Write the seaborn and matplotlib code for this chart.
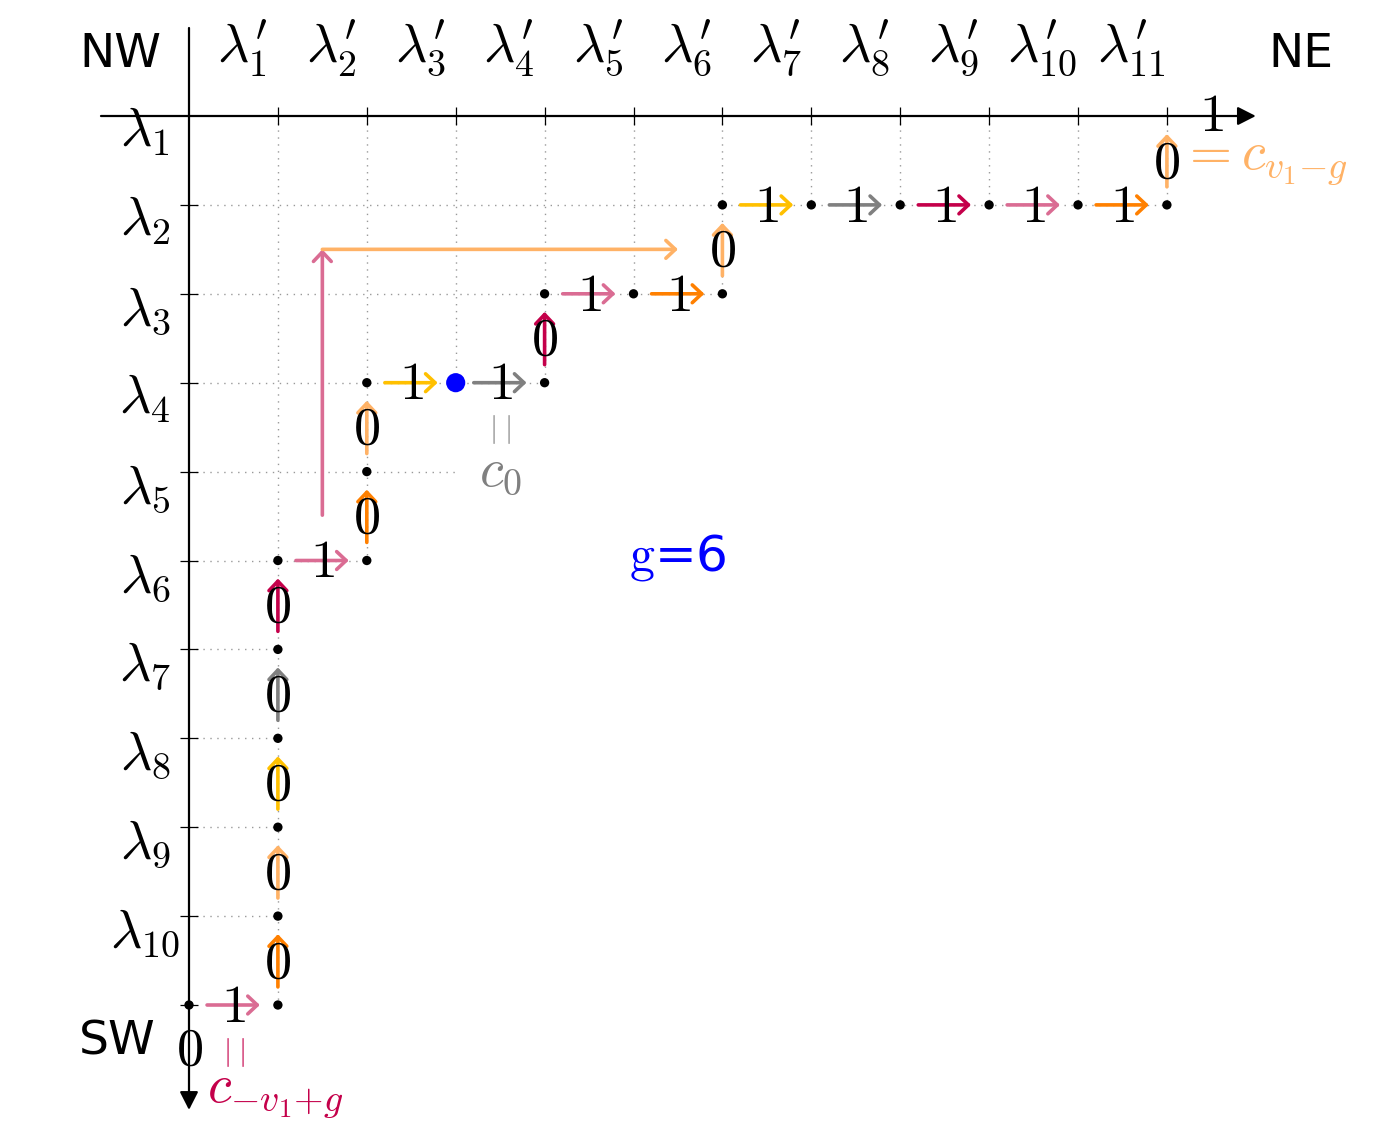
import numpy as np
import pandas as pd
import matplotlib
matplotlib.use('Agg')
import matplotlib.pyplot as plt
import seaborn as sns

# lattice path from the SW corner: 1 = step east, 0 = step north
steps = [1, 0, 0, 0, 0, 0, 1, 0, 0, 1, 1, 0, 1, 1, 0, 1, 1, 1, 1, 1, 0]
start = (0, 10)
c0_index = 10
g = 6
cycle_colors = ['#DA6C93', '#FF8000', '#FFB266', '#FFC000', '#808080', '#C4004A']
row_labels = [r'$\lambda_{1}$', r'$\lambda_{2}$', r'$\lambda_{3}$', r'$\lambda_{4}$', r'$\lambda_{5}$',
              r'$\lambda_{6}$', r'$\lambda_{7}$', r'$\lambda_{8}$', r'$\lambda_{9}$', r'$\lambda_{10}$']
col_labels = [r'$\lambda_{1}^{\prime}$', r'$\lambda_{2}^{\prime}$', r'$\lambda_{3}^{\prime}$',
              r'$\lambda_{4}^{\prime}$', r'$\lambda_{5}^{\prime}$', r'$\lambda_{6}^{\prime}$',
              r'$\lambda_{7}^{\prime}$', r'$\lambda_{8}^{\prime}$', r'$\lambda_{9}^{\prime}$',
              r'$\lambda_{10}^{\prime}$', r'$\lambda_{11}^{\prime}$']
row_extent = [11, 6, 4, 3, 2, 1, 1, 1, 1]
col_extent = [10, 5, 3, 3, 2, 2, 1, 1, 1, 1, 1]

sns.set_style('white')
plt.rcParams['mathtext.fontset'] = 'cm'
plt.rcParams['font.family'] = ['DejaVu Sans']
plt.rcParams['text.color'] = 'black'

FS = 39
UNIT = 88.9


def path_points(steps, start):
    xs, ys = [start[0]], [start[1]]
    for s in steps:
        if s == 1:
            xs.append(xs[-1] + 1)
            ys.append(ys[-1])
        else:
            xs.append(xs[-1])
            ys.append(ys[-1] - 1)
    return xs, ys


def arrow(ax, p0, p1, color, shrink=13, style='->,head_length=0.34,head_width=0.32', lw=2.6):
    ax.annotate('', xy=p1, xytext=p0,
                arrowprops=dict(arrowstyle=style, color=color, lw=lw, shrinkA=shrink, shrinkB=shrink,
                                mutation_scale=20))


fig = plt.figure(figsize=(13.85, 11.21), dpi=100)
ax = fig.add_axes([0, 0, 1, 1])

xs, ys = path_points(steps, start)
df = pd.DataFrame({'x': xs[:-1], 'y': ys[:-1]})
df['kind'] = 'v'
df.loc[c0_index, 'kind'] = 'c0'

# dotted grid, only inside the diagram
for j, e in enumerate(col_extent, start=1):
    ax.plot([j, j], [0, e], ls=(0, (1, 4)), color='#999999', lw=1, zorder=1)
for i, e in enumerate(row_extent, start=1):
    ax.plot([0, e], [i, i], ls=(0, (1, 4)), color='#999999', lw=1, zorder=1)

# axes with arrows
ax.annotate('', xy=(12.0, 0), xytext=(-0.99, 0),
            arrowprops=dict(arrowstyle='-|>,head_length=0.55,head_width=0.28', color='black', lw=1.6,
                            shrinkA=0, shrinkB=0, mutation_scale=20))
ax.annotate('', xy=(0, 11.18), xytext=(0, -0.99),
            arrowprops=dict(arrowstyle='-|>,head_length=0.55,head_width=0.28', color='black', lw=1.6,
                            shrinkA=0, shrinkB=0, mutation_scale=20))
ax.vlines(np.arange(1, len(col_labels) + 1), -0.1, 0.1, color='black', lw=0.9)
ax.hlines(np.arange(1, len(row_labels) + 1), -0.1, 0.1, color='black', lw=0.9)

# edges of the path
for k, s in enumerate(steps):
    p0 = (xs[k], ys[k])
    p1 = (xs[k + 1], ys[k + 1])
    arrow(ax, p0, p1, cycle_colors[k % g])
    ax.text((p0[0] + p1[0]) / 2, (p0[1] + p1[1]) / 2 + 0.02, '$%d$' % s, fontsize=FS,
            ha='center', va='center', zorder=6)
ax.text(11.5, 0.0, '$1$', fontsize=FS, ha='center', va='center', zorder=6)
ax.text(0, 10.5, '$0$', fontsize=FS, ha='center', va='center', zorder=6)

sns.scatterplot(data=df[df['kind'] == 'v'], x='x', y='y', color='black', s=45, edgecolor='none',
                ax=ax, zorder=7, legend=False)
sns.scatterplot(data=df[df['kind'] == 'c0'], x='x', y='y', color='#0000FF', s=190, edgecolor='none',
                ax=ax, zorder=7, legend=False)

# the big hook arrow
arrow(ax, (1.5, 4.49), (1.5, 1.5), cycle_colors[0], shrink=0)
arrow(ax, (1.5, 1.5), (5.5, 1.5), cycle_colors[2], shrink=0)

# labels
for i, lab in enumerate(row_labels):
    ax.text(-0.495, i + 0.18, lab, fontsize=FS, ha='center', va='center')
for j, lab in enumerate(col_labels, start=1):
    ax.text(j - 0.4, -0.76, lab, fontsize=FS, ha='center', va='center')
ax.text(-0.776, -0.69, 'NW', fontsize=34, ha='center', va='center')
ax.text(12.51, -0.69, 'NE', fontsize=34, ha='center', va='center')
ax.text(-0.81, 10.42, 'SW', fontsize=34, ha='center', va='center')

ax.text(3.5, 3.53, r'$|\;|$', fontsize=21, ha='center', va='center', color=cycle_colors[4])
ax.text(3.5, 3.98, '$c_0$', fontsize=FS, ha='center', va='center', color=cycle_colors[4])
ax.text(0.5, 10.53, r'$|\;|$', fontsize=21, ha='center', va='center', color=cycle_colors[5])
ax.text(0.2, 10.99, '$c_{{-}v_1{+}g}$', fontsize=FS, ha='left', va='center', color=cycle_colors[5])
ax.text(11.15, 0.5, '$= c_{v_1{-}g}$', fontsize=FS, ha='left', va='center', color=cycle_colors[2])
ax.text(5.5, 4.97, r'$\mathrm{g}$=6', fontsize=36, ha='center', va='center', color='#0000FF')

ax.set_xlim(-189 / UNIT, (1385 - 189) / UNIT)
ax.set_ylim((1121 - 116) / UNIT, -116 / UNIT)
ax.set_axis_off()

fig.savefig('out.png', dpi=100)
